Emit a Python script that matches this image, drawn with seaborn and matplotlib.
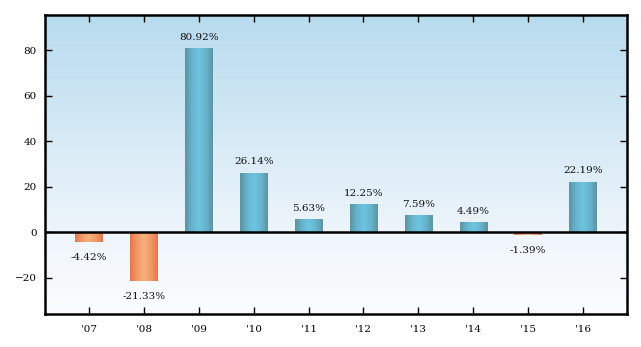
import numpy as np
import pandas as pd
import matplotlib
matplotlib.use("Agg")
import matplotlib.pyplot as plt
from matplotlib.colors import LinearSegmentedColormap
import seaborn as sns

years = ["'07", "'08", "'09", "'10", "'11", "'12", "'13", "'14", "'15", "'16"]
returns = [-4.42, -21.33, 80.92, 26.14, 5.63, 12.25, 7.59, 4.49, -1.39, 22.19]
labels = ["-4.42%", "-21.33%", "80.92%", "26.14%", "5.63%", "12.25%", "7.59%", "4.49%", "-1.39%", "22.19%"]
yticks = [-20, 0, 20, 40, 60, 80]

sns.set_style("ticks")
plt.rcParams["font.family"] = ["DejaVu Serif"]

df = pd.DataFrame({"year": years, "ret": returns})

fig = plt.figure(figsize=(6.41, 3.47), dpi=100)
ax = fig.add_axes([45 / 641, 1 - 314 / 347, (627 - 45) / 641, (314 - 15) / 347])

sns.barplot(data=df, x="year", y="ret", ax=ax, width=0.5, color="#6ac3df",
            saturation=1, linewidth=0, zorder=3)

ymin, ymax = -36.0, 95.4
xmin, xmax = -0.8, 9.8
ax.set_xlim(xmin, xmax)
ax.set_ylim(ymin, ymax)

# vertical background gradient
bg = LinearSegmentedColormap.from_list(
    "bg", [(0.0, "#fbfdfe"), (0.27, "#eef5fb"), (1.0, "#b7dbee")])
grad = np.linspace(0, 1, 256).reshape(-1, 1)
ax.imshow(grad, extent=[xmin, xmax, ymin, ymax], origin="lower", aspect="auto",
          cmap=bg, zorder=0, interpolation="bicubic")

# cylinder shading on each bar
pos_cmap = LinearSegmentedColormap.from_list(
    "pos", ["#5c93a3", "#66b4cc", "#6cc5e2", "#66b4cc", "#5c93a3"])
neg_cmap = LinearSegmentedColormap.from_list(
    "neg", ["#e6744a", "#f19a68", "#f7b27e", "#f19a68", "#e6744a"])
hgrad = np.linspace(0, 1, 128).reshape(1, -1)
for patch, val, lab in zip(ax.patches, returns, labels):
    x0, y0 = patch.get_x(), patch.get_y()
    w, h = patch.get_width(), patch.get_height()
    im = ax.imshow(hgrad, extent=[x0, x0 + w, min(y0, y0 + h), max(y0, y0 + h)],
                   origin="lower", aspect="auto",
                   cmap=pos_cmap if val >= 0 else neg_cmap, zorder=4,
                   interpolation="bicubic")
    im.set_clip_path(patch)
    top = max(y0, y0 + h) if val >= 0 else min(y0, y0 + h)
    off = 4.5 if val >= 0 else -8
    ax.annotate(lab, (x0 + w / 2, top),
                xytext=(0, off), textcoords="offset points",
                ha="center", va="bottom" if val >= 0 else "top",
                fontsize=7.5, color="#111111", zorder=6)

ax.set_xlim(xmin, xmax)
ax.set_ylim(ymin, ymax)
ax.axhline(0, color="black", lw=1.8, zorder=5)

ax.set_yticks(yticks)
ax.set_yticklabels([("\u2212" + str(abs(t))) if t < 0 else str(t) for t in yticks])
ax.set_xlabel("")
ax.set_ylabel("")
ax.tick_params(axis="both", direction="in", length=5, width=1, top=True, right=True,
               labelsize=7.5, colors="black", pad=8)
ax.tick_params(axis="y", pad=6)
for s in ax.spines.values():
    s.set_visible(True)
    s.set_linewidth(1.8)
    s.set_color("black")
    s.set_zorder(7)

fig.savefig("out.png", dpi=100, facecolor="white")
